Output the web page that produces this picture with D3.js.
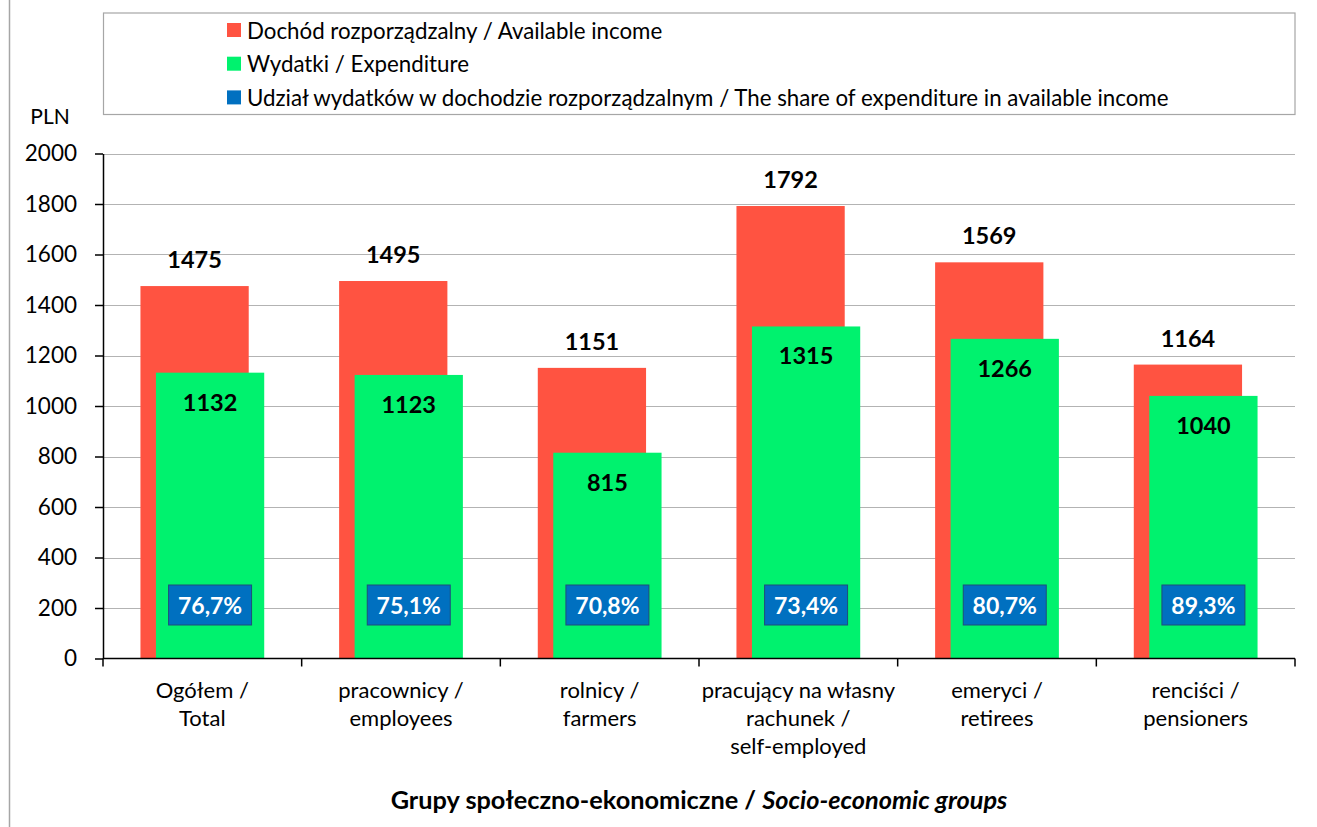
<!DOCTYPE html>
<html><head><meta charset="utf-8">
<script src="https://cdn.jsdelivr.net/npm/d3@7"></script>
<style>
body{margin:0;background:#fff;}
svg{display:block;font-family:Lato,"Open Sans",sans-serif;}
</style></head>
<body>
<svg id="chart" width="1317" height="827"></svg>
<script>
const categories = [
  ["Ogółem /", "Total"],
  ["pracownicy /", "employees"],
  ["rolnicy /", "farmers"],
  ["pracujący na własny", "rachunek /", "self-employed"],
  ["emeryci /", "retirees"],
  ["renciści /", "pensioners"]
];
const income = [1475, 1495, 1151, 1792, 1569, 1164];
const expenditure = [1132, 1123, 815, 1315, 1266, 1040];
const share = ["76,7%", "75,1%", "70,8%", "73,4%", "80,7%", "89,3%"];
const yTicks = [0, 200, 400, 600, 800, 1000, 1200, 1400, 1600, 1800, 2000];
const legendLabels = [
  "Dochód rozporządzalny / Available income",
  "Wydatki / Expenditure",
  "Udział wydatków w dochodzie rozporządzalnym / The share of expenditure in available income"
];
const colors = ["#FF5341", "#00F26E", "#0070C0"];

const svg = d3.select("#chart");
const pLeft = 103, pRight = 1295, pTop = 153.5, pBottom = 658.5;

// outer left border
svg.append("line").attr("x1", 9.5).attr("x2", 9.5).attr("y1", 0).attr("y2", 827)
  .attr("stroke", "#a6a6a6").attr("stroke-width", 1.5);

const x = d3.scaleBand().domain(d3.range(categories.length)).range([pLeft, pRight]).padding(0);
const y = d3.scaleLinear().domain([0, 2000]).range([pBottom, pTop]);
const bw = x.bandwidth();
const barW = bw * 0.545;
const off = bw * 0.078;
const startX = i => x(i) + (bw - barW - off) / 2;

// gridlines
svg.append("g").selectAll("line").data(yTicks.slice(1)).join("line")
  .attr("x1", pLeft).attr("x2", pRight)
  .attr("y1", d => Math.round(y(d)) + 0.5).attr("y2", d => Math.round(y(d)) + 0.5)
  .attr("stroke", "#b3b3b3").attr("stroke-width", 1.2);

// bars
svg.append("g").selectAll("rect").data(income).join("rect")
  .attr("x", (d, i) => startX(i)).attr("width", barW)
  .attr("y", d => y(d)).attr("height", d => y(0) - y(d))
  .attr("fill", colors[0]);
svg.append("g").selectAll("rect").data(expenditure).join("rect")
  .attr("x", (d, i) => startX(i) + off).attr("width", barW)
  .attr("y", d => y(d)).attr("height", d => y(0) - y(d))
  .attr("fill", colors[1]);

// value labels
svg.append("g").selectAll("text").data(income).join("text")
  .attr("x", (d, i) => startX(i) + barW / 2).attr("y", d => y(d) - 27)
  .attr("text-anchor", "middle").attr("dominant-baseline", "central")
  .attr("font-weight", "bold").attr("font-size", 23.5).attr("fill", "#000")
  .text(d => d);
svg.append("g").selectAll("text").data(expenditure).join("text")
  .attr("x", (d, i) => startX(i) + off + barW / 2).attr("y", d => y(d) + 29)
  .attr("text-anchor", "middle").attr("dominant-baseline", "central")
  .attr("font-weight", "bold").attr("font-size", 23.5).attr("fill", "#000")
  .text(d => d);

// share boxes
const sg = svg.append("g").selectAll("g").data(share).join("g")
  .attr("transform", (d, i) => `translate(${startX(i) + off + barW / 2},605)`);
sg.append("rect").attr("x", -41.5).attr("y", -20).attr("width", 83).attr("height", 40)
  .attr("fill", colors[2]).attr("stroke", "#1F4E79").attr("stroke-width", 1);
sg.append("text").attr("text-anchor", "middle").attr("dominant-baseline", "central")
  .attr("font-weight", "bold").attr("font-size", 23).attr("fill", "#fff").text(d => d);

// y axis
const yAxis = svg.append("g").attr("transform", `translate(${pLeft},0)`)
  .call(d3.axisLeft(y).tickValues(yTicks).tickSize(8).tickSizeOuter(0).tickPadding(18).tickFormat(d3.format("d")));
yAxis.select(".domain").attr("stroke", "#000").attr("stroke-width", 1.5);
yAxis.selectAll(".tick line").attr("stroke", "#000").attr("stroke-width", 1.5);
yAxis.selectAll("text").attr("font-size", 22.5).attr("font-family", "Lato, sans-serif").attr("fill", "#000");

// x axis
const xAxis = svg.append("g").attr("transform", `translate(0,${pBottom})`);
xAxis.append("line").attr("x1", pLeft).attr("x2", pRight).attr("y1", 0).attr("y2", 0)
  .attr("stroke", "#000").attr("stroke-width", 1.5);
xAxis.selectAll("line.t").data(d3.range(categories.length + 1)).join("line").attr("class", "t")
  .attr("x1", i => i < categories.length ? x(i) : pRight).attr("x2", i => i < categories.length ? x(i) : pRight)
  .attr("y1", 0).attr("y2", 8).attr("stroke", "#000").attr("stroke-width", 1.5);
xAxis.selectAll("text.c").data(categories).join("text").attr("class", "c")
  .attr("x", (d, i) => x(i) + bw / 2).attr("text-anchor", "middle")
  .attr("font-size", 22).attr("fill", "#000")
  .each(function(d) {
    d3.select(this).selectAll("tspan").data(d).join("tspan")
      .attr("x", d3.select(this).attr("x")).attr("y", (t, j) => 39 + j * 28).text(t => t);
  });

// axis titles
svg.append("text").attr("x", 50).attr("y", 124).attr("text-anchor", "middle")
  .attr("font-size", 21).text("PLN");
const at = svg.append("text").attr("x", 699).attr("y", 809).attr("text-anchor", "middle")
  .attr("font-size", 25.3).attr("font-weight", "bold");
at.append("tspan").text("Grupy społeczno-ekonomiczne / ");
at.append("tspan").attr("font-style", "italic").text("Socio-economic groups");

// legend
svg.append("rect").attr("x", 103.5).attr("y", 13).attr("width", 1191.5).attr("height", 101.5)
  .attr("fill", "none").attr("stroke", "#a6a6a6").attr("stroke-width", 1.2);
const lg = svg.append("g").selectAll("g").data(legendLabels).join("g")
  .attr("transform", (d, i) => `translate(227,${30 + i * 33.7})`);
lg.append("rect").attr("x", 0).attr("y", -7).attr("width", 14).attr("height", 14)
  .attr("fill", (d, i) => colors[i]);
lg.append("text").attr("x", 20).attr("dominant-baseline", "central")
  .attr("font-size", 22.3).text(d => d);
</script>
</body></html>
